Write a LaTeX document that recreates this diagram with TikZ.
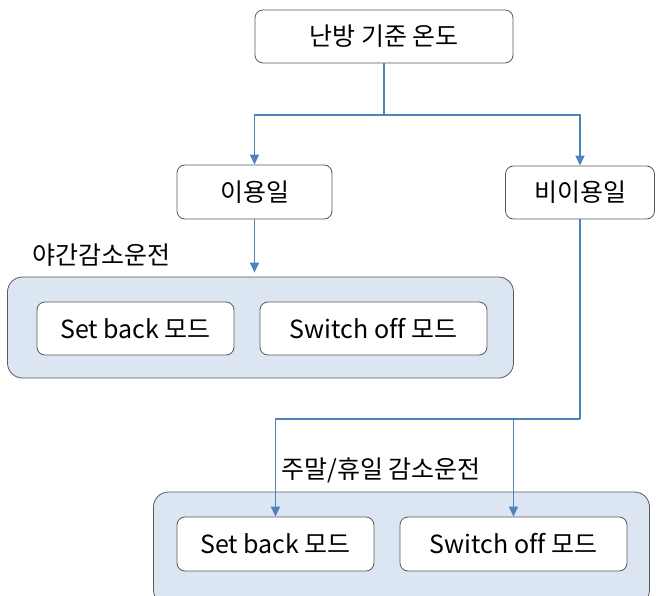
\documentclass[tikz,border=0pt]{standalone}
\usepackage{fontspec}
\setmainfont[Ligatures=NoCommon]{Noto Sans CJK KR}
\usetikzlibrary{arrows.meta}
\definecolor{linkblue}{HTML}{4F81BD}
\definecolor{groupfill}{HTML}{DCE6F2}
\begin{document}
\begin{tikzpicture}[x=1pt, y=-1pt]
\tikzstyle{main}=[rectangle, rounded corners=8pt, draw=black!65, fill=white, line width=0.8pt, inner sep=0pt, font=\fontsize{25}{30}\selectfont]
\tikzstyle{group}=[rectangle, rounded corners=15pt, draw=black!65, fill=groupfill, line width=0.8pt, inner sep=0pt]
\tikzstyle{grouplabel}=[inner sep=0pt, font=\fontsize{25}{30}\selectfont]
\tikzstyle{connect}=[-{Triangle[length=10pt, width=9pt]}, draw=linkblue, line width=1.4pt]
\tikzstyle{line}=[draw=linkblue, line width=1.4pt]

\useasboundingbox (0,0) rectangle (656,596);
\clip (0,0) rectangle (656,596);

\node[main, minimum width=258pt, minimum height=53pt] at (384,36.5) (base) {난방 기준 온도};
\node[main, minimum width=155pt, minimum height=54pt] at (254.5,192) (use) {이용일};
\node[main, minimum width=149pt, minimum height=53pt] at (580,192.5) (nonuse) {비이용일};

\node[group, minimum width=506pt, minimum height=101pt] at (260.5,327.5) (night) {};
\node[grouplabel] at (101.5,255) (nightlabel) {야간감소운전};
\node[main, minimum width=197pt, minimum height=53pt] at (135.5,328.5) (nsetback) {Set back 모드};
\node[main, minimum width=227pt, minimum height=53pt] at (373.5,328.5) (nswitch) {Switch off 모드};

\node[group, minimum width=496pt, minimum height=113pt] at (401.5,548.5) (weekend) {};
\node[grouplabel] at (381,470) (weekendlabel) {주말/휴일 감소운전};
\node[main, minimum width=197pt, minimum height=54pt] at (275.5,544) (wsetback) {Set back 모드};
\node[main, minimum width=227pt, minimum height=54pt] at (513.5,544) (wswitch) {Switch off 모드};

\coordinate (split) at (384,115);
\coordinate (wsplit) at (580,419);
\path (base) edge [line] (split);
\draw[connect] (split) -| (use.north);
\draw[connect] (split) -| (nonuse.north);
\draw[connect, shorten >=4pt] (use.south) -- (use.south |- night.north);
\path (nonuse) edge [line] (wsplit);
\draw[connect] (wsplit) -| (wsetback.north);
\draw[connect] (wsplit) -| (wswitch.north);
\end{tikzpicture}
\end{document}
